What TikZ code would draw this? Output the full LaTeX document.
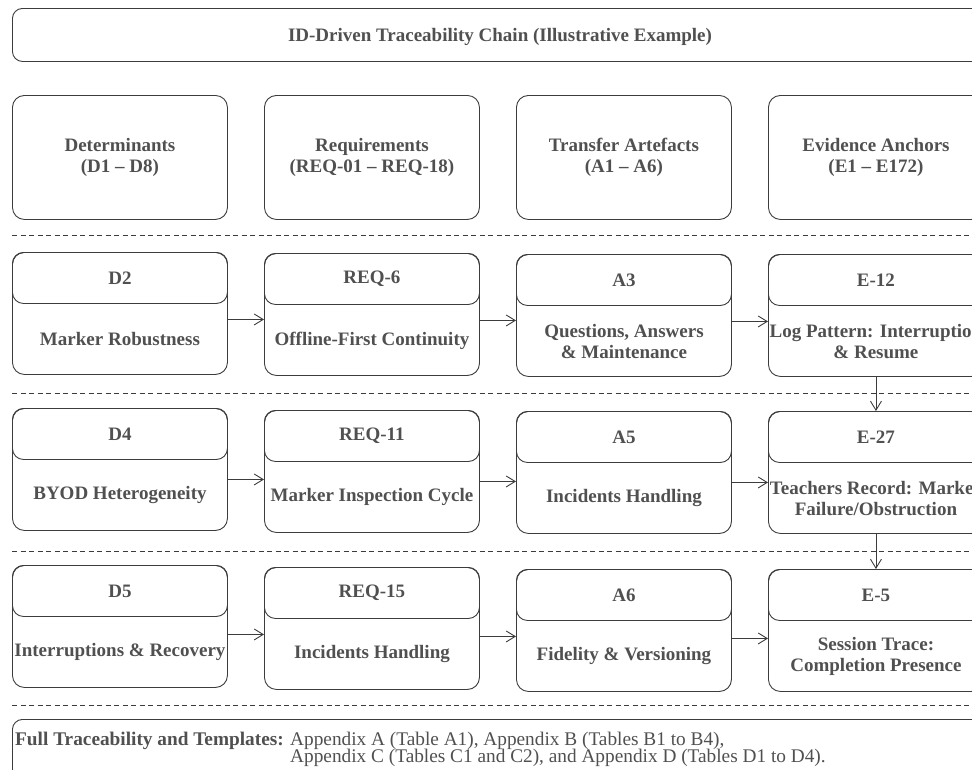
\documentclass[tikz,border=0pt]{standalone}
\usepackage{fontspec}
\setmainfont{Liberation Serif}
\usetikzlibrary{calc,arrows.meta}
\definecolor{txt}{HTML}{505050}
\definecolor{ln}{HTML}{3C3C3C}
\tikzset{
  every node/.style={text=txt, font=\fontsize{19}{20.5}\selectfont\bfseries, inner sep=0pt},
  cardbox/.style={draw=ln, line width=0.9pt, rounded corners=12pt, minimum width=215pt, minimum height=122pt},
  cardhead/.style={draw=ln, line width=0.9pt, rounded corners=11pt, minimum width=215pt, minimum height=51pt},
  topbox/.style={draw=ln, line width=0.9pt, rounded corners=12pt, minimum width=215pt, minimum height=124pt, align=center},
  cardtext/.style={align=center},
  sep/.style={draw=ln, line width=0.8pt, dash pattern=on 5pt off 3.5pt},
  arr/.style={draw=ln, line width=0.9pt, -{Straight Barb[length=9pt,width=11pt]}},
}
\newcommand{\card}[5]{%
  \node[cardbox, anchor=north west] (#1) at (#2,#3) {};
  \node[cardhead, anchor=north] (#1h) at (#1.north) {#4};
  \node[cardtext] (#1b) at ($(#1h.south)!0.5!(#1.south)$) {#5};
}
\begin{document}
\begin{tikzpicture}[x=1pt,y=-1pt]
\useasboundingbox (0,0) rectangle (972,769);
\clip (0,0) rectangle (972,769);

% title
\node[draw=ln, line width=0.9pt, rounded corners=10pt, minimum width=976pt, minimum height=53pt, anchor=north west] (title) at (12,8) {};
\node (titletext) at (500,37) {ID-Driven Traceability Chain (Illustrative Example)};

% column headers
\node[topbox, anchor=north west] (hd) at (12,95) {Determinants\\(D1 -- D8)};
\node[topbox, anchor=north west] (hr) at (264,95) {Requirements\\(REQ-01 -- REQ-18)};
\node[topbox, anchor=north west] (ha) at (516,95) {Transfer Artefacts\\(A1 -- A6)};
\node[topbox, anchor=north west] (he) at (768,95) {Evidence Anchors\\(E1 -- E172)};

% separators
\draw[sep] (12,235) -- (980,235);
\draw[sep] (12,393) -- (980,393);
\draw[sep] (12,551) -- (980,551);
\draw[sep] (12,705) -- (980,705);

% row 1
\card{d2}{12}{252}{D2}{Marker Robustness}
\card{r6}{264}{253}{REQ-6}{Offline-First Continuity}
\card{a3}{516}{254}{A3}{Questions, Answers\\\& Maintenance}
\card{e12}{768}{254}{E-12}{Log Pattern: Interruption\\\& Resume}

% row 2
\card{d4}{12}{408}{D4}{BYOD Heterogeneity}
\card{r11}{264}{410}{REQ-11}{Marker Inspection Cycle}
\card{a5}{516}{411}{A5}{Incidents Handling}
\card{e27}{768}{411}{E-27}{Teachers Record: Marker\\Failure/Obstruction}

% row 3
\card{d5}{12}{565}{D5}{Interruptions \& Recovery}
\card{r15}{264}{567}{REQ-15}{Incidents Handling}
\card{a6}{516}{569}{A6}{Fidelity \& Versioning}
\card{e5}{768}{569}{E-5}{Session Trace:\\Completion Presence}

% horizontal arrows
\draw[arr] ([yshift=-6pt]d2.east) -- ([yshift=-6pt]d2.east -| r6.west);
\draw[arr] ([yshift=-6pt]r6.east) -- ([yshift=-6pt]r6.east -| a3.west);
\draw[arr] ([yshift=-6pt]a3.east) -- ([yshift=-6pt]a3.east -| e12.west);
\draw[arr] ([yshift=-10pt]d4.east) -- ([yshift=-10pt]d4.east -| r11.west);
\draw[arr] ([yshift=-10pt]r11.east) -- ([yshift=-10pt]r11.east -| a5.west);
\draw[arr] ([yshift=-10pt]a5.east) -- ([yshift=-10pt]a5.east -| e27.west);
\draw[arr] ([yshift=-8pt]d5.east) -- ([yshift=-8pt]d5.east -| r15.west);
\draw[arr] ([yshift=-8pt]r15.east) -- ([yshift=-8pt]r15.east -| a6.west);
\draw[arr] ([yshift=-8pt]a6.east) -- ([yshift=-8pt]a6.east -| e5.west);

% vertical arrows
\draw[arr] (e12.south) -- (e27.north);
\draw[arr] (e27.south) -- (e5.north);

% footer
\node[draw=ln, line width=0.9pt, rounded corners=10pt, minimum width=976pt, minimum height=80pt, anchor=north west] (foot) at (12,719) {};
\node[anchor=base west, font=\fontsize{19.3}{18.5}\selectfont\mdseries] (foottext) at (15,745)
  {\textbf{Full Traceability and Templates:} \begin{tabular}[t]{@{}l@{}}Appendix A (Table A1), Appendix B (Tables B1 to B4),\\[-1pt] Appendix C (Tables C1 and C2), and Appendix D (Tables D1 to D4).\end{tabular}};
\end{tikzpicture}
\end{document}
